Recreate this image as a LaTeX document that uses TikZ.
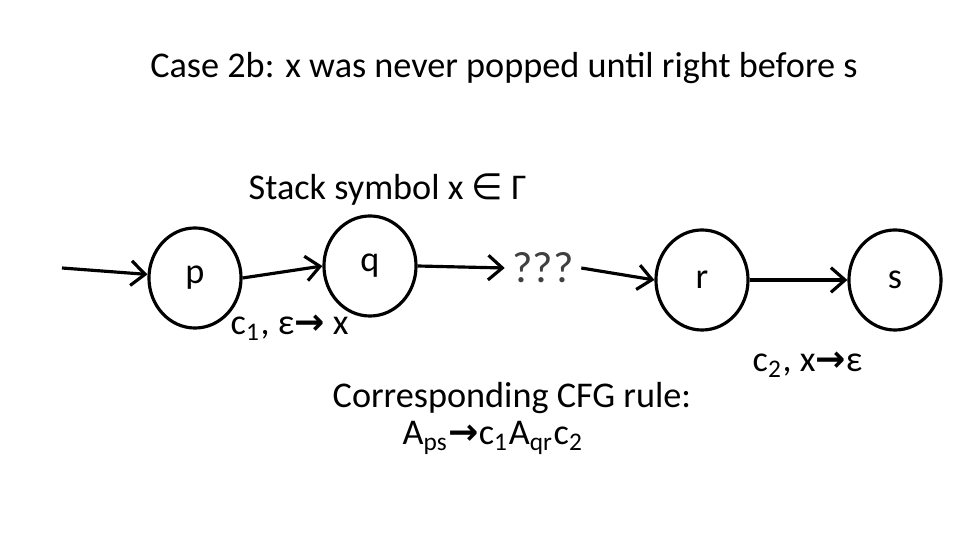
\documentclass[tikz,border=0pt]{standalone}
\usepackage{fontspec}
\setmainfont{Carlito}
\newfontfamily\symf{DejaVu Sans}
\newcommand{\rarr}{{\symf\bfseries →}}
\usetikzlibrary{arrows.meta,shapes.geometric}
\begin{document}
\begin{tikzpicture}[x=0.01cm,y=-0.01cm,
  st/.style={draw,line width=0.9pt,ellipse,minimum width=0.92cm,minimum height=1.0cm,inner sep=0pt,font=\fontsize{10.3}{12}\selectfont},
  ar/.style={line width=0.9pt,-{Straight Barb[length=4pt,width=7pt]}},
  lab/.style={font=\fontsize{10.3}{12}\selectfont,inner sep=0pt}]
\useasboundingbox (0,0) rectangle (960,540);
\node[lab,anchor=base] (title) at (504,78) {Case 2b: x was never popped until right before s};
\node[lab,anchor=base west] (stack) at (248,200) {Stack symbol x {\symf ∈} Γ};
\node[st] (p) at (195,278) {p};
\node[st] (q) at (370,266) {q};
\node[lab,font=\fontsize{12.5}{14}\selectfont,text=black!75,inner xsep=2pt] (qq) at (543,268) {???};
\node[st] (r) at (702,280) {r};
\node[st] (s) at (895,280) {s};
\coordinate (init) at (62,268);
\draw[ar] (init) -- (p);
\draw[ar] (p.east) -- (q.west);
\draw[ar] (q.east) -- (qq.west);
\draw[ar] (qq.east) -- (r.west);
\draw[ar] (r.east) -- (s.west);
\node[lab,anchor=base west] (l1) at (230,335) {c\textsubscript{1}, ε\rarr\ x};
\node[lab,anchor=base west] (l2) at (752,372) {c\textsubscript{2}, x\rarr ε};
\node[lab,anchor=base west] (cfg) at (332,408) {Corresponding CFG rule:};
\node[lab,anchor=base west] (rule) at (402,445) {A\textsubscript{ps}\rarr c\textsubscript{1}A\textsubscript{qr}c\textsubscript{2}};
\end{tikzpicture}
\end{document}
